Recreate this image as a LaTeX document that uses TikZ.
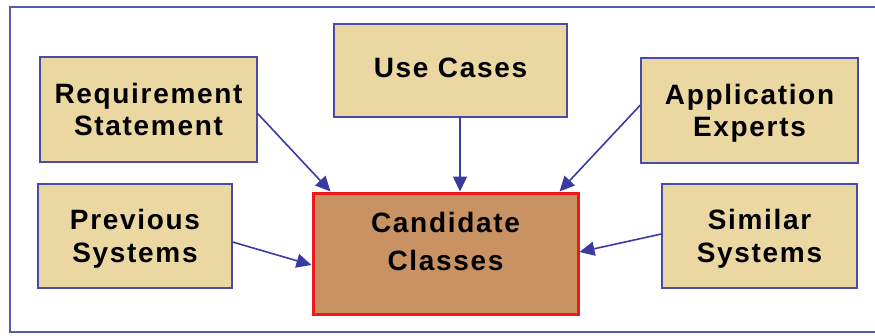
\documentclass[tikz,border=0pt]{standalone}
\usepackage{fontspec}
\setmainfont{Liberation Sans}[LetterSpace=6]
\usetikzlibrary{arrows.meta}
\definecolor{framecol}{HTML}{5A5AB4}
\definecolor{boxborder}{HTML}{4A4AA8}
\definecolor{papyrus}{HTML}{EAD7A2}
\definecolor{cork}{HTML}{C99263}
\definecolor{arrowcol}{HTML}{3A3AA2}
\definecolor{redborder}{HTML}{F01818}
\tikzset{
  srcbox/.style={draw=boxborder, line width=1.2pt, fill=papyrus, inner sep=0pt},
  candbox/.style={draw=redborder, line width=3pt, fill=cork, inner sep=0pt},
  lbl/.style={font=\bfseries\fontsize{28}{32.5}\selectfont, align=center, text=black, inner sep=0pt},
  conn/.style={draw=arrowcol, line width=1.6pt, -{Triangle[length=15pt,width=14pt]}},
}
\begin{document}
\begin{tikzpicture}[x=1pt,y=-1pt]
\useasboundingbox (0,0) rectangle (875,335);
\begin{scope}
\clip (0,0) rectangle (875,335);
\draw[framecol, line width=1.2pt] (10,7) rectangle (890,332);
\end{scope}
% boxes
\node[srcbox, minimum width=217pt, minimum height=105pt] (req) at (148.5,109.5) {};
\node[srcbox, minimum width=233pt, minimum height=93pt] (use) at (450.5,70.5) {};
\node[srcbox, minimum width=217pt, minimum height=105pt] (app) at (749.5,110.5) {};
\node[srcbox, minimum width=194pt, minimum height=104pt] (prev) at (135,236) {};
\node[srcbox, minimum width=195pt, minimum height=104pt] (sim) at (759.5,236) {};
\node[candbox, minimum width=265pt, minimum height=121pt] (cand) at (445.5,253.5) {};
% labels
\node[lbl] (reqT) at (req.center) {Requirement\\Statement};
\node[lbl] (useT) at ([yshift=2.5pt]use.center) {Use Cases};
\node[lbl] (appT) at ([yshift=-3pt]app.center) {Application\\Experts};
\node[lbl] (prevT) at ([yshift=-3pt]prev.center) {Previous\\Systems};
\node[lbl] (simT) at ([yshift=-3pt]sim.center) {Similar\\Systems};
\node[lbl, font=\bfseries\fontsize{28}{38}\selectfont] (candT) at ([yshift=12pt]cand.center) {Candidate\\Classes};
% connectors
\draw[conn] ([yshift=-4pt]req.east) -- ([xshift=19pt]cand.north west);
\draw[conn] ([xshift=9.5pt]use.south) -- ([xshift=14.5pt]cand.north);
\draw[conn] ([yshift=5.5pt]app.west) -- ([xshift=-20pt]cand.north east);
\draw[conn] ([yshift=-6pt]prev.east) -- ([yshift=-11.5pt]cand.west);
\draw[conn] ([yshift=2pt]sim.west) -- ([yshift=1.5pt]cand.east);
\end{tikzpicture}
\end{document}
